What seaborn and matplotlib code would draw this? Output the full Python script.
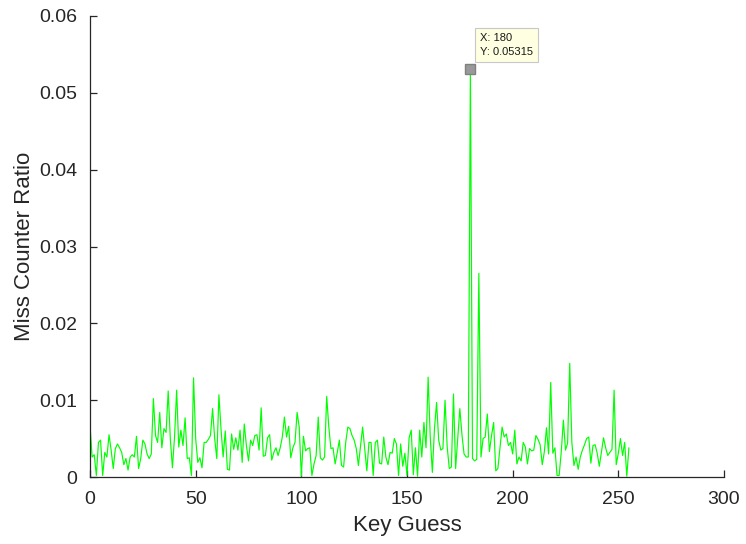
import numpy as np
import pandas as pd
import matplotlib
matplotlib.use("Agg")
import matplotlib.pyplot as plt
import seaborn as sns

# ---- data (Miss Counter Ratio, in units of 1e-3) ----
key_guess = list(range(256))
ratio_milli = [
    6.8, 2.6, 2.9, 0.2, 4.5, 4.8, 0.2, 3.2, 2.6, 5.5,
    3.5, 1.1, 3.7, 4.3, 3.8, 3.2, 1.6, 2.4, 0.9, 2.6,
    2.9, 2.6, 5.3, 1.1, 2.4, 4.8, 4.3, 3.0, 2.4, 3.0,
    10.2, 5.4, 4.5, 8.4, 3.8, 6.3, 5.8, 11.2, 5.0, 1.2,
    5.2, 11.3, 3.9, 6.1, 4.1, 7.7, 2.4, 2.5, 0.2, 12.9,
    5.0, 1.9, 2.5, 1.2, 4.5, 4.5, 4.9, 5.4, 8.9, 5.0,
    2.4, 10.7, 6.2, 2.6, 6.0, 1.0, 0.9, 5.6, 3.6, 5.1,
    3.5, 6.1, 1.9, 6.9, 4.1, 2.1, 4.8, 4.1, 5.4, 5.5,
    3.5, 9.0, 2.7, 2.8, 5.1, 5.5, 2.2, 3.2, 3.8, 2.8,
    3.8, 5.2, 7.8, 5.2, 6.6, 2.5, 3.8, 4.5, 8.4, 6.5,
    0.1, 5.3, 3.4, 3.7, 3.8, 0.2, 1.7, 2.8, 7.8, 2.5,
    2.2, 2.6, 10.5, 6.5, 3.7, 3.8, 1.7, 3.2, 4.8, 1.5,
    1.3, 4.5, 6.5, 6.3, 5.4, 4.8, 3.7, 1.5, 4.0, 6.5,
    3.7, 0.8, 4.5, 4.5, 0.2, 4.5, 4.8, 1.8, 1.7, 5.2,
    2.6, 1.6, 3.2, 3.1, 5.0, 4.3, 0.2, 4.3, 1.4, 3.1,
    0.2, 5.1, 6.1, 0.3, 3.8, 0.1, 6.1, 2.6, 7.1, 3.8,
    13.0, 5.2, 0.6, 6.3, 9.7, 4.8, 3.5, 3.7, 10.0, 4.0,
    1.1, 1.3, 10.8, 1.1, 5.0, 8.9, 5.5, 3.0, 2.6, 2.6,
    53.15, 2.4, 2.1, 2.3, 26.5, 2.6, 5.0, 5.2, 8.2, 3.3,
    5.4, 7.1, 0.8, 1.1, 3.8, 6.5, 5.2, 5.6, 4.1, 4.5,
    3.0, 6.1, 1.7, 2.6, 2.1, 4.5, 3.9, 1.7, 3.7, 3.4,
    3.5, 5.4, 4.9, 4.2, 1.6, 3.3, 6.4, 3.0, 12.3, 3.1,
    3.8, 0.2, 0.2, 3.3, 7.4, 3.5, 4.4, 14.8, 4.5, 1.5,
    2.6, 1.0, 2.6, 3.5, 4.2, 5.0, 5.2, 1.8, 4.1, 4.2,
    3.1, 1.4, 3.3, 5.1, 3.8, 2.8, 3.2, 3.6, 11.3, 1.6,
    3.1, 5.0, 2.8, 4.5, 0.1, 3.8,
]
ratio = [v / 1000.0 for v in ratio_milli]

x_ticks = [0, 50, 100, 150, 200, 250, 300]
y_ticks = [0, 0.01, 0.02, 0.03, 0.04, 0.05, 0.06]
y_tick_labels = ["0", "0.01", "0.02", "0.03", "0.04", "0.05", "0.06"]

tip_x = 180
tip_y = 0.05315
tip_text = "X: 180\nY: 0.05315"

# ---- style ----
sns.set_style("ticks")
plt.rcParams["font.family"] = ["Liberation Sans", "DejaVu Sans"]
axis_color = "#262626"

fig = plt.figure(figsize=(7.46, 5.44), dpi=100)
ax = fig.add_axes([90 / 746, 1 - 477 / 544, (724 - 90) / 746, (477 - 16) / 544])

df = pd.DataFrame({"Key Guess": key_guess, "Miss Counter Ratio": ratio})
sns.lineplot(data=df, x="Key Guess", y="Miss Counter Ratio", color="#00ff00",
             linewidth=0.85, ax=ax, legend=False)

ax.set_xlim(0, 300)
ax.set_ylim(0, 0.06)
ax.set_xticks(x_ticks)
ax.set_xticklabels([str(t) for t in x_ticks])
ax.set_yticks(y_ticks)
ax.set_yticklabels(y_tick_labels)

for side in ["top", "right"]:
    ax.spines[side].set_visible(False)
for side in ["left", "bottom"]:
    ax.spines[side].set_color(axis_color)
    ax.spines[side].set_linewidth(0.9)

ax.tick_params(direction="in", length=5, width=0.9, colors=axis_color,
               labelsize=14, labelcolor=axis_color)
ax.tick_params(axis="x", pad=10)
ax.tick_params(axis="y", pad=9)
ax.set_xlabel("Key Guess", fontsize=16, color=axis_color, labelpad=5)
ax.set_ylabel("Miss Counter Ratio", fontsize=16, color=axis_color, labelpad=3.5)

# data tip
ax.plot([tip_x], [tip_y], marker="s", markersize=6.5, color="#999999",
        markeredgecolor="#808080", zorder=5, clip_on=False)
ax.annotate(tip_text, xy=(tip_x, tip_y), xytext=(10, 12), textcoords="offset pixels",
            ha="left", va="bottom", fontsize=8, color="#1a1a1a", linespacing=1.5,
            bbox=dict(boxstyle="square,pad=0.45", facecolor="#ffffe1",
                      edgecolor="#c8c8c8", linewidth=0.8),
            zorder=6)

fig.savefig("out.png", dpi=100)
